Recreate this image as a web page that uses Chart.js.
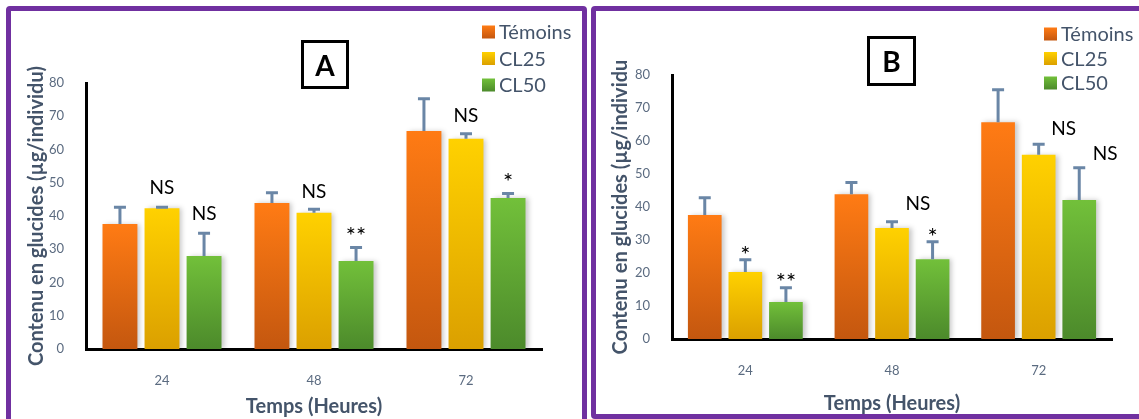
<!DOCTYPE html>
<html>
<head>
<meta charset="utf-8">
<script src="https://cdn.jsdelivr.net/npm/chart.js@4"></script>
<style>
body { margin: 0; width: 1139px; height: 419px; overflow: hidden; background: #fff; position: relative; font-family: Lato, sans-serif; }
.panel { position: absolute; border: 5px solid #7030A0; border-radius: 4px; box-sizing: border-box; }
#panelA { left: 6px; top: 6px; width: 581px; height: 440px; }
#panelB { left: 591px; top: 6px; width: 570px; height: 413px; }
canvas { position: absolute; }
#chartA { left: 12px; top: 12px; }
#chartB { left: 596px; top: 12px; }
.tag { position: absolute; border: 3px solid #000; box-sizing: border-box; font: bold 28px Lato, sans-serif; display: flex; align-items: center; justify-content: center; color: #000; }
#tagA { left: 301px; top: 40px; width: 48px; height: 49px; }
#tagB { left: 867px; top: 36px; width: 49px; height: 50px; }
</style>
</head>
<body>
<div class="panel" id="panelA"></div>
<div class="panel" id="panelB"></div>
<canvas id="chartA" width="569" height="407"></canvas>
<canvas id="chartB" width="543" height="404"></canvas>
<div class="tag" id="tagA">A</div>
<div class="tag" id="tagB">B</div>
<script>
// categories and series
var categories = ["24", "48", "72"];
var seriesNames = ["Témoins", "CL25", "CL50"];

// panel A values (µg/individu) and error bars
var temoinsA = [37.6, 43.9, 65.6];
var cl25A = [42.3, 41.0, 63.2];
var cl50A = [28.0, 26.5, 45.4];
var temoinsErrA = [5.0, 3.1, 9.7];
var cl25ErrA = [0.3, 1.0, 1.5];
var cl50ErrA = [6.8, 4.0, 1.4];
var cl25SigA = ["NS", "NS", "NS"];
var cl50SigA = ["NS", "**", "*"];

// panel B
var temoinsB = [37.6, 43.9, 65.7];
var cl25B = [20.3, 33.6, 55.8];
var cl50B = [11.2, 24.2, 42.1];
var temoinsErrB = [5.2, 3.5, 9.8];
var cl25ErrB = [3.7, 1.9, 3.2];
var cl50ErrB = [4.3, 5.3, 9.8];
var cl25SigB = ["*", "NS", "NS"];
var cl50SigB = ["**", "*", "NS"];

var yTicks = [0, 10, 20, 30, 40, 50, 60, 70, 80];

var fills = [
    ["#FF7B14", "#C4570F"],
    ["#FFD100", "#DBA000"],
    ["#72C03A", "#4C8A2B"]
];
var errColor = "#6A86A6";
var tickColor = "#5B6B80";
var titleColor = "#44546A";

function barFill(colors) {
    return function(c) {
        var chart = c.chart;
        if (!chart.chartArea || c.type !== 'data') return colors[0];
        var y = chart.scales.y;
        var top = y.getPixelForValue(c.parsed.y);
        var bottom = y.getPixelForValue(0);
        var g = chart.ctx.createLinearGradient(0, top, 0, bottom);
        g.addColorStop(0, colors[0]);
        g.addColorStop(1, colors[1]);
        return g;
    };
}

var extras = {
    id: 'extras',
    beforeDatasetsDraw: function(chart) {
        var ctx = chart.ctx;
        ctx.save();
        ctx.shadowColor = 'rgba(0,0,0,0.22)';
        ctx.shadowBlur = 5;
        ctx.shadowOffsetX = 3;
    },
    afterDatasetsDraw: function(chart, args, opts) {
        var ctx = chart.ctx;
        ctx.restore();
        var y = chart.scales.y;
        var area = chart.chartArea;
        chart.data.datasets.forEach(function(ds, i) {
            var meta = chart.getDatasetMeta(i);
            meta.data.forEach(function(bar, j) {
                var top = y.getPixelForValue(ds.data[j] + ds.errors[j]);
                ctx.save();
                ctx.strokeStyle = errColor;
                ctx.lineWidth = 3;
                ctx.beginPath();
                ctx.moveTo(bar.x, bar.y);
                ctx.lineTo(bar.x, top);
                ctx.moveTo(bar.x - 6, top);
                ctx.lineTo(bar.x + 6, top);
                ctx.stroke();
                ctx.restore();

                var txt = ds.signif ? ds.signif[j] : "";
                if (txt) {
                    var pos = opts.notes[i][j];
                    ctx.save();
                    ctx.font = txt.charAt(0) === '*' ? "24px Lato" : "19px Lato";
                    ctx.fillStyle = "#000";
                    ctx.textAlign = "center";
                    ctx.textBaseline = "alphabetic";
                    var m = ctx.measureText(txt);
                    var cy = top - pos[1];
                    var base = cy + (m.actualBoundingBoxAscent - m.actualBoundingBoxDescent) / 2;
                    ctx.fillText(txt, bar.x + pos[0], base);
                    ctx.restore();
                }
            });
        });

        // legend
        ctx.save();
        ctx.font = "20px Lato";
        ctx.textBaseline = "middle";
        ctx.textAlign = "left";
        seriesNames.forEach(function(name, i) {
            var sx = area.right + opts.legendX;
            var cy = area.top + opts.legendY + i * opts.rowGap;
            var g = ctx.createLinearGradient(0, cy - 6.5, 0, cy + 6.5);
            g.addColorStop(0, fills[i][0]);
            g.addColorStop(1, fills[i][1]);
            ctx.fillStyle = g;
            ctx.fillRect(sx, cy - 6.5, 13, 13);
            ctx.fillStyle = titleColor;
            ctx.fillText(name, sx + 17, cy + 1);
        });
        ctx.restore();
    }
};

function makeChart(id, values, errors, signifs, cfg) {
    var datasets = seriesNames.map(function(name, i) {
        return {
            label: name,
            data: values[i],
            errors: errors[i],
            signif: signifs[i],
            backgroundColor: barFill(fills[i]),
            borderWidth: 0,
            categoryPercentage: 0.83,
            barPercentage: 0.83
        };
    });
    var tickFont = { family: 'Lato', size: 13 };
    var titleFont = { family: 'Lato', size: 20, weight: 'bold' };
    return new Chart(document.getElementById(id).getContext('2d'), {
        type: 'bar',
        data: { labels: categories, datasets: datasets },
        options: {
            responsive: false,
            animation: false,
            devicePixelRatio: 1,
            layout: { padding: { top: cfg.padTop, right: cfg.padRight, left: 0, bottom: 0 } },
            plugins: {
                legend: { display: false },
                tooltip: { enabled: false },
                extras: cfg.extras
            },
            scales: {
                x: {
                    grid: { display: false, drawTicks: false },
                    border: { color: '#000', width: 3 },
                    ticks: { color: tickColor, font: tickFont, padding: 24 },
                    title: { display: true, text: 'Temps (Heures)', color: titleColor, font: titleFont, padding: { top: 0, bottom: 0 } },
                    afterFit: function(s) { s.height = cfg.xHeight; }
                },
                y: {
                    min: 0,
                    max: 80,
                    grid: { display: false, drawTicks: false },
                    border: { color: '#000', width: 3 },
                    afterBuildTicks: function(s) { s.ticks = yTicks.map(function(v) { return { value: v }; }); },
                    ticks: { color: tickColor, font: tickFont, padding: 22 },
                    title: { display: true, text: cfg.yTitle, color: titleColor, font: titleFont, padding: { top: 13, bottom: 0 } },
                    afterFit: function(s) { s.width = cfg.yWidth; }
                }
            }
        },
        plugins: [extras]
    });
}

makeChart('chartA',
    [temoinsA, cl25A, cl50A],
    [temoinsErrA, cl25ErrA, cl50ErrA],
    [null, cl25SigA, cl50SigA],
    {
        padTop: 71, padRight: 39, xHeight: 70, yWidth: 74,
        yTitle: 'Contenu en glucides (µg/individu)',
        extras: {
            legendX: -60, legendY: -51, rowGap: 26.5,
            notes: [[], [[0, 20], [0, 18], [0, 19]], [[0, 20], [0, 17], [0, 16]]]
        }
    });

makeChart('chartB',
    [temoinsB, cl25B, cl50B],
    [temoinsErrB, cl25ErrB, cl50ErrB],
    [null, cl25SigB, cl50SigB],
    {
        padTop: 63, padRight: 27, xHeight: 77, yWidth: 76,
        yTitle: 'Contenu en glucides (µg/individu',
        extras: {
            legendX: -68, legendY: -41, rowGap: 24.5,
            notes: [[], [[0, 10], [26, 19], [25, 16]], [[0, 11], [0, 10], [26, 15]]]
        }
    });
</script>
</body>
</html>
